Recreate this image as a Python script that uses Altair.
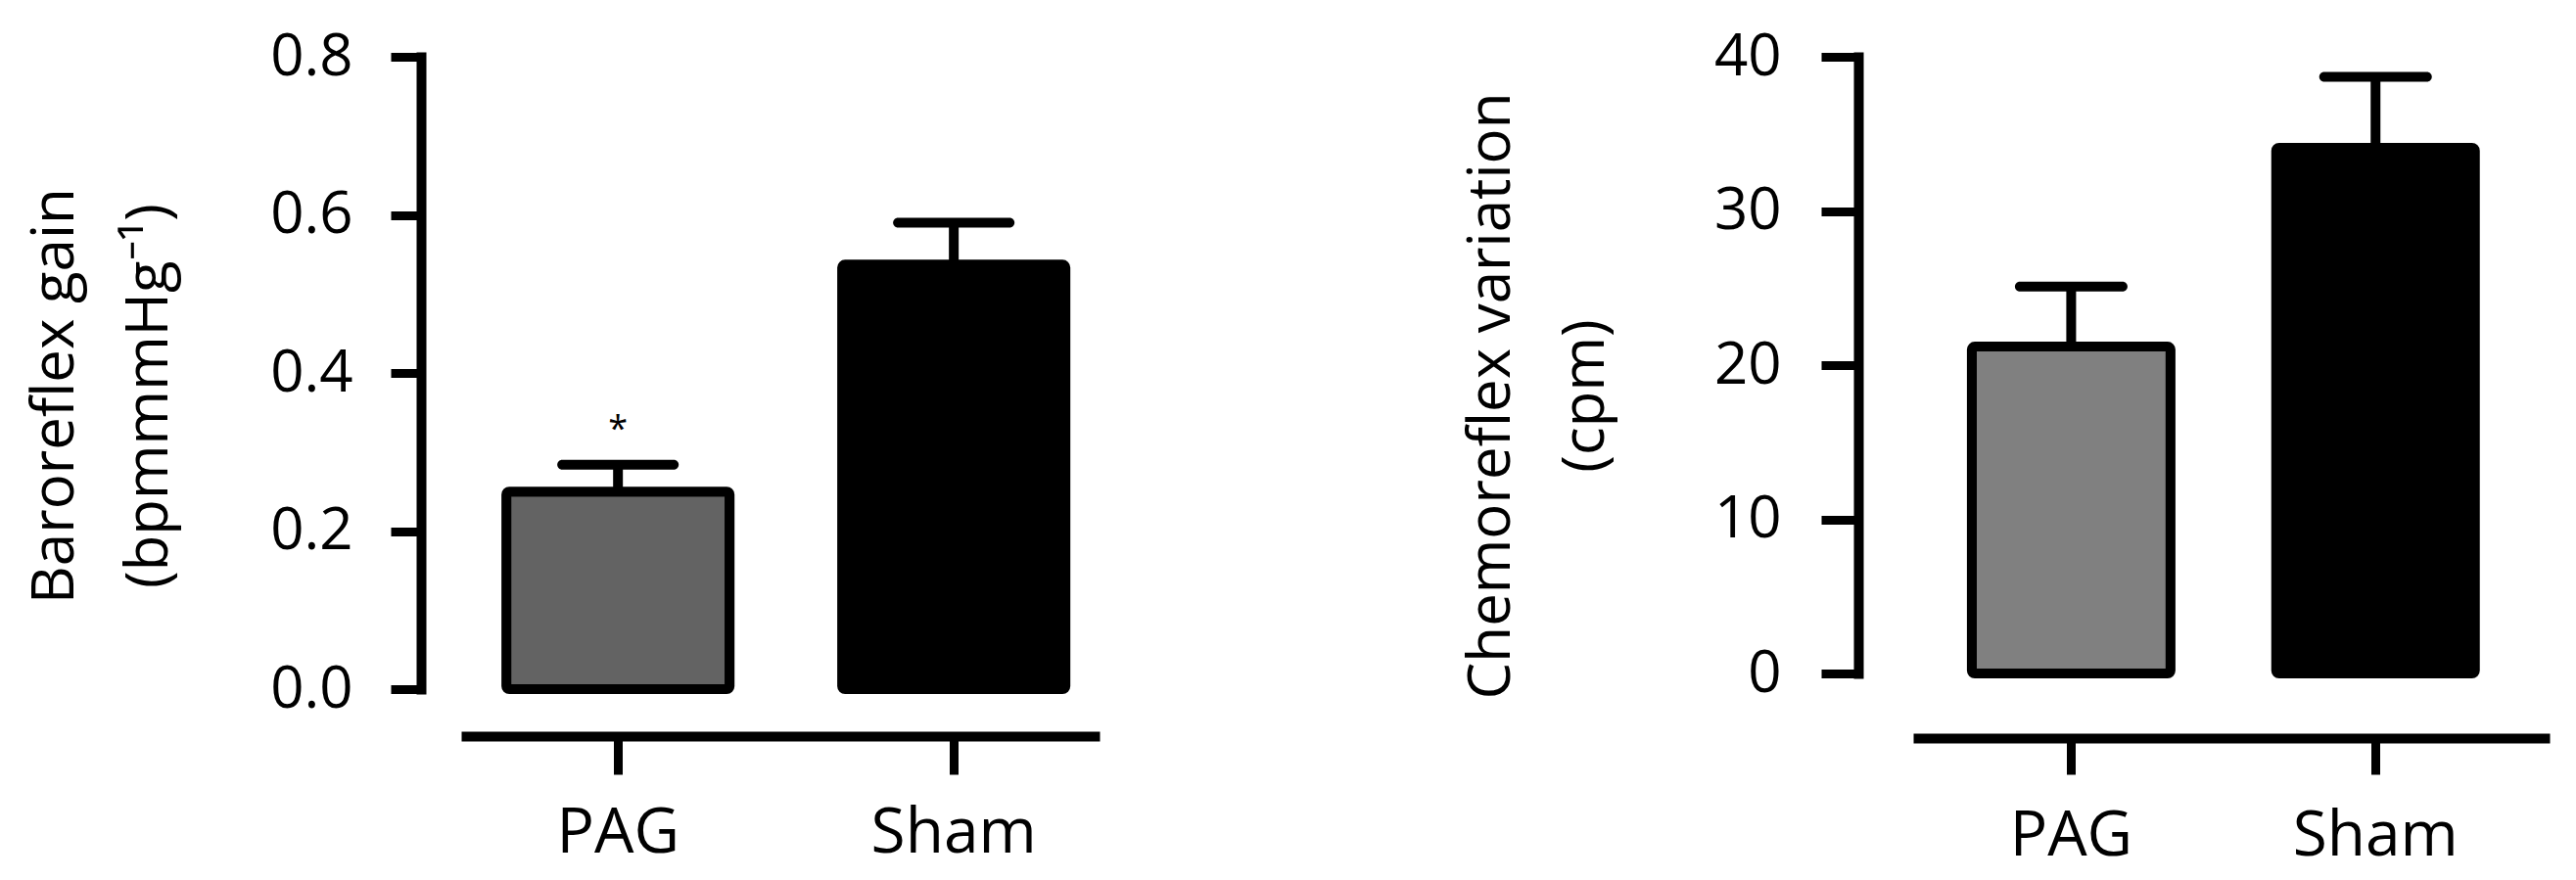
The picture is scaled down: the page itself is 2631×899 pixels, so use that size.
import altair as alt
import pandas as pd

groups = ["PAG", "Sham"]
baro_mean = [0.25, 0.537]
baro_upper = [0.284, 0.59]
baro_sig = ["*", ""]
baro_fill = ["#636363", "#000000"]
baro_ticks = [0.0, 0.2, 0.4, 0.6, 0.8]

chemo_mean = [21.2, 34.1]
chemo_upper = [25.1, 38.7]
chemo_sig = ["", ""]
chemo_fill = ["#808080", "#000000"]
chemo_ticks = [0, 10, 20, 30, 40]

FONT = "Open Sans"


def panel(mean, upper, fill, sig, ticks, domain, title, w, h, yoff, ytick, ylabpad,
          xoff, xtick, xlabpad, pi, po, align, cap, fmt, tpad, ty):
    df = pd.DataFrame({"group": groups, "mean": mean, "upper": upper,
                       "fill": fill, "sig": sig})
    xscale = alt.Scale(paddingInner=pi, paddingOuter=po, align=align)
    xaxis = alt.Axis(title=None, labelAngle=0, offset=xoff, tickSize=xtick,
                     labelPadding=xlabpad, labelBaseline="top", labelFontSize=64)
    yscale = alt.Scale(domain=domain, nice=False, zero=True)
    yaxis = alt.Axis(values=ticks, format=fmt, title=title, offset=yoff,
                     tickSize=ytick, labelPadding=ylabpad, titlePadding=tpad,
                     titleY=ty, domainCap="square")
    x = alt.X("group:N", sort=groups, scale=xscale, axis=xaxis)
    base = alt.Chart(df)
    bars = base.mark_bar(stroke="black", strokeWidth=10, cornerRadius=3).encode(
        x=x,
        y=alt.Y("mean:Q", scale=yscale, axis=yaxis),
        fill=alt.Fill("fill:N", scale=None),
    )
    stem = base.mark_rule(color="black", strokeWidth=10).encode(
        x=x,
        y=alt.Y("mean:Q", scale=yscale, axis=yaxis),
        y2="upper:Q",
    )
    capm = base.mark_tick(color="black", thickness=10, size=cap, cornerRadius=5,
                          opacity=1).encode(
        x=x,
        y=alt.Y("upper:Q", scale=yscale, axis=yaxis),
    )
    star = base.mark_text(font=FONT, fontSize=36, dy=-36, color="black",
                          baseline="middle", align="center").encode(
        x=x,
        y=alt.Y("upper:Q", scale=yscale, axis=yaxis),
        text="sig:N",
    )
    return alt.layer(bars, stem, capm, star).properties(width=w, height=h)


left = panel(baro_mean, baro_upper, baro_fill, baro_sig, baro_ticks, [0, 0.8],
             ["Baroreflex gain", "(bpmmmHg\u207b\u00b9)"], 652, 646,
             41, 31, 39, 48, 39, 28, 0.335, 0.118, 0.57, 124, ".1f", 92, 346)
right = panel(chemo_mean, chemo_upper, chemo_fill, chemo_sig, chemo_ticks, [0, 40],
              ["Chemoreflex  variation", "(cpm)"], 650, 630,
              56, 38, 41, 66, 37, 31, 0.347, 0.219, 0.44, 115, "d", 100, 346)

chart = alt.hconcat(left, right, spacing=831, bounds="flush").properties(
    padding={"left": 18, "top": 16, "right": 5, "bottom": 5}
).configure(background="white").configure_view(stroke=None).configure_axis(
    grid=False,
    domainColor="black", domainWidth=10,
    tickColor="black", tickWidth=9,
    labelFont=FONT, labelFontSize=60, labelColor="black",
    titleFont=FONT, titleFontSize=60, titleColor="black", titleFontWeight="normal",
    titleLineHeight=96,
)

chart.save("out.html", embed_options={"renderer": "svg", "actions": False})
